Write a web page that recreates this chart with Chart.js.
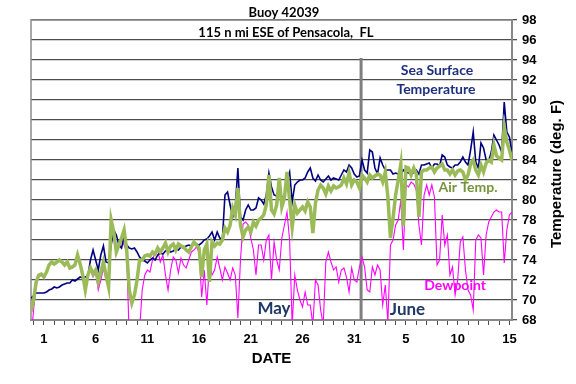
<!DOCTYPE html>
<html>
<head>
<meta charset="utf-8">
<script src="https://cdn.jsdelivr.net/npm/chart.js@4.4.0/dist/chart.umd.min.js"></script>
<style>
  html, body { margin: 0; padding: 0; background: #fff; }
</style>
</head>
<body>
<canvas id="myChart" width="576" height="384"></canvas>
<script>
// 6-hourly readings. Day 1 = May 1, day 32 = June 1. First reading at day -0.25.
const startDay = -0.25;
const stepDay = 0.25;

const seaSurface = [
    70.2, 70.4, 70.7, 70.7,
    70.7, 70.7, 70.8, 71.0,
    71.1, 71.3, 71.2, 71.3,
    71.5, 71.6, 71.7, 71.7,
    72.0, 71.9, 72.1, 72.3,
    72.2, 72.3, 72.4, 74.0,
    75.0, 74.0, 73.0, 74.5,
    75.4, 73.8, 73.7, 75.5,
    77.0, 76.5, 75.5, 75.2,
    76.3, 75.5, 75.2, 75.1,
    75.2, 74.8, 74.3, 74.0,
    73.9, 73.7, 74.0, 74.2,
    74.0, 74.5, 74.7, 74.6,
    74.9, 75.0, 74.8, 74.9,
    75.1, 75.0, 75.3, 75.2,
    75.4, 75.5, 75.4, 75.8,
    75.6, 75.5, 75.7, 76.0,
    76.1, 76.4, 76.8, 76.0,
    76.8, 76.2, 76.0, 80.5,
    80.8, 79.5, 78.3, 79.3,
    83.2, 78.3, 78.0, 79.0,
    79.5, 79.0, 79.0, 79.2,
    80.2, 80.0, 79.6, 80.5,
    82.7, 81.3, 80.5, 80.4,
    80.8, 80.2, 80.5, 82.0,
    82.8, 79.8, 81.5, 81.8,
    82.0, 82.0, 82.2, 82.8,
    83.2, 82.2, 81.9, 82.5,
    82.0, 81.8, 82.1, 82.4,
    82.0, 82.2, 82.1, 82.0,
    82.5, 83.0, 82.8, 83.5,
    83.2, 82.6, 82.3, 82.4,
    84.0, 83.0, 82.7, 85.0,
    84.8, 83.2, 82.6, 84.2,
    83.5, 83.0, 83.0, 83.0,
    82.6, 82.7, 82.6, 82.5,
    83.0, 82.8, 82.7, 82.7,
    82.7, 83.0, 82.6, 83.5,
    83.5, 83.6, 83.7, 83.2,
    83.6, 83.6, 83.4, 84.5,
    84.3, 83.5, 83.3, 83.2,
    83.5, 83.5, 83.8, 84.3,
    83.8, 83.5, 85.0, 86.8,
    83.8, 83.2, 85.7, 85.2,
    84.0, 83.9, 84.8, 86.5,
    86.0, 85.5, 84.8, 89.8,
    86.8, 86.3, 84.7
];

const airTemp = [
    68.8, 70.0, 71.8, 72.5,
    72.6, 72.3, 72.8, 73.5,
    73.8, 73.6, 73.8, 74.0,
    73.8, 73.5, 73.8, 73.2,
    73.3, 73.5, 74.5, 73.6,
    72.5, 71.0, 72.5, 73.2,
    72.6, 73.0, 71.8, 72.8,
    73.8, 72.5, 71.3, 78.0,
    76.8, 74.8, 75.5, 76.2,
    77.0, 75.0, 71.0, 69.7,
    70.5, 72.0, 74.0, 74.0,
    74.4, 74.5, 74.4, 74.8,
    74.6, 75.2, 74.8, 75.2,
    75.7, 74.8, 75.4, 75.6,
    75.0, 75.6, 75.4, 75.3,
    75.0, 74.8, 75.3, 75.8,
    75.5, 75.2, 72.3, 75.0,
    75.6, 71.8, 75.8, 75.4,
    75.7, 75.6, 76.0, 77.2,
    76.8, 77.5, 79.2, 78.5,
    81.2, 77.5, 76.3, 77.0,
    77.3, 76.8, 77.8, 77.4,
    78.0, 78.2, 78.5, 79.5,
    82.5, 79.0, 78.6, 79.5,
    82.2, 79.3, 80.2, 82.8,
    80.0, 77.3, 79.5, 78.7,
    79.0, 79.3, 78.9, 79.8,
    79.3, 76.7, 79.7, 81.0,
    81.5, 81.2, 80.6, 81.4,
    80.9, 81.4, 81.2, 81.3,
    81.5, 82.2, 81.6, 82.7,
    81.5, 82.0, 81.8, 81.2,
    82.5, 82.2, 81.8, 82.5,
    82.2, 82.4, 82.6, 82.5,
    81.8, 82.8, 80.3, 76.2,
    78.2, 80.5, 82.0, 83.6,
    77.4, 83.3, 83.2, 82.5,
    83.2, 82.6, 78.3, 82.8,
    83.0, 83.0, 83.2, 83.3,
    82.8, 83.2, 83.4, 83.6,
    83.0, 83.0, 82.6, 83.0,
    82.5, 82.9, 83.0, 82.8,
    82.0, 82.5, 83.6, 84.0,
    83.0, 82.5, 83.5, 82.8,
    83.7, 84.0, 83.8, 85.5,
    84.4, 84.2, 84.0, 87.3,
    85.8, 85.0, 84.0
];

const dewpoint = [
    66.0, 69.0, 71.5, 72.3,
    72.5, 72.2, 72.7, 73.4,
    73.7, 73.5, 73.7, 73.9,
    73.7, 73.4, 73.7, 73.1,
    73.2, 73.4, 74.4, 73.5,
    72.4, 70.9, 72.4, 73.0,
    72.3, 72.8, 71.0, 72.0,
    73.2, 72.0, 71.2, 76.0,
    76.3, 74.6, 75.3, 76.0,
    75.5, 74.8, 66.0, 65.0,
    65.5, 66.0, 67.0, 71.0,
    72.5, 73.0, 72.8, 74.0,
    74.8, 75.0, 73.8, 74.5,
    72.5, 71.0, 73.0, 74.3,
    74.0, 72.7, 74.2, 73.5,
    73.2, 74.0, 74.8, 75.0,
    75.3, 74.8, 70.3, 73.0,
    69.5, 73.5, 72.5, 73.0,
    74.3, 73.2, 72.0, 73.3,
    72.7, 72.0, 73.2, 72.5,
    68.2, 74.0, 77.6, 77.8,
    77.5, 76.2, 75.0, 72.5,
    75.5, 75.5, 74.0, 76.0,
    76.5, 72.0, 75.8, 74.0,
    73.0, 76.2, 77.5, 78.8,
    76.0, 67.5, 72.5, 71.0,
    70.0, 69.3, 70.8, 69.5,
    69.5, 67.5, 72.0, 71.5,
    69.0, 67.5, 73.8, 74.8,
    73.8, 73.0, 73.3, 71.8,
    73.0, 73.2, 72.3, 70.8,
    73.2, 72.0, 71.8, 73.3,
    74.3, 73.3, 71.0, 70.8,
    73.3, 72.5, 73.5, 73.0,
    69.5, 71.5, 67.8, 75.5,
    76.0, 77.5, 78.0, 80.0,
    75.0, 81.5, 81.3, 81.8,
    81.6, 81.0, 77.5, 75.5,
    80.5, 81.5, 80.5, 81.5,
    80.3, 73.5, 74.0, 78.5,
    75.5, 76.5, 72.5, 73.3,
    70.5, 72.0, 75.8, 76.3,
    73.0, 71.0, 70.5, 69.0,
    76.0, 76.5, 76.2, 72.5,
    76.5, 77.8, 78.3, 78.8,
    79.0, 78.8, 78.8, 73.7,
    77.0, 78.5, 78.8
];

// labelled days on the date axis
const tickDays = [1, 6, 11, 16, 21, 26, 31, 36, 41, 46];
const tickLabels = ['1', '6', '11', '16', '21', '26', '31', '5', '10', '15'];

// May / June divider
const monthBreak = { day: 31.66, top: 94.2 };

const notes = [
    { text: 'Buoy 42039', day: 24.2, temp: 98.75, color: '#000', font: 'bold 13px Lato' },
    { text: '115 n mi ESE of Pensacola,  FL', day: 24.4, temp: 96.75, color: '#000', font: 'bold 13px Lato' },
    { text: 'Sea Surface', day: 39.0, temp: 93.0, color: '#1f2f7f', font: 'bold 14px Lato' },
    { text: 'Temperature', day: 38.9, temp: 91.1, color: '#1f2f7f', font: 'bold 14px Lato' },
    { text: 'Air Temp.', day: 42.0, temp: 81.3, color: '#77933c', font: 'bold 14px Lato' },
    { text: 'Dewpoint', day: 40.75, temp: 71.5, color: '#ff00ff', font: 'bold 14px Lato' },
    { text: 'May', day: 23.24, temp: 69.1, color: '#1f3864', font: 'bold 17px Lato' },
    { text: 'June', day: 36.15, temp: 69.0, color: '#1f3864', font: 'bold 17px Lato' }
];

const toPoints = vals => vals.map((v, i) => ({ x: startDay + i * stepDay, y: v }));

const extras = {
    id: 'extras',
    beforeDatasetsDraw(chart) {
        const { ctx, chartArea, scales: { x, y } } = chart;
        ctx.save();
        ctx.strokeStyle = '#8c8c8c';
        ctx.lineWidth = 1.5;
        ctx.strokeRect(chartArea.left, chartArea.top, chartArea.right - chartArea.left, chartArea.bottom - chartArea.top);
        const px = x.getPixelForValue(monthBreak.day);
        ctx.strokeStyle = '#7f7f7f';
        ctx.lineWidth = 3;
        ctx.beginPath();
        ctx.moveTo(px, y.getPixelForValue(monthBreak.top));
        ctx.lineTo(px, y.getPixelForValue(68));
        ctx.stroke();
        ctx.restore();
    },
    afterDatasetsDraw(chart) {
        const { ctx, scales: { x, y } } = chart;
        ctx.save();
        ctx.textAlign = 'center';
        ctx.textBaseline = 'middle';
        notes.forEach(n => {
            ctx.font = n.font;
            ctx.fillStyle = n.color;
            ctx.fillText(n.text, x.getPixelForValue(n.day), y.getPixelForValue(n.temp));
        });
        // y axis title, reading bottom to top
        ctx.translate(557, 174);
        ctx.rotate(-Math.PI / 2);
        ctx.font = 'bold 15px "Liberation Sans"';
        ctx.fillStyle = '#000';
        ctx.fillText('Temperature (deg. F)', 0, 0);
        ctx.restore();
    }
};

const ctx = document.getElementById('myChart').getContext('2d');
const myChart = new Chart(ctx, {
    type: 'line',
    data: {
        datasets: [
            {
                label: 'Air Temp.',
                data: toPoints(airTemp),
                borderColor: '#9bbb59',
                borderWidth: 3.5
            },
            {
                label: 'Sea Surface Temperature',
                data: toPoints(seaSurface),
                borderColor: '#000080',
                borderWidth: 1.6
            },
            {
                label: 'Dewpoint',
                data: toPoints(dewpoint),
                borderColor: '#ff00ff',
                borderWidth: 1.1
            }
        ]
    },
    options: {
        responsive: false,
        animation: false,
        layout: { padding: { left: 31, top: 20, right: 0, bottom: 0 } },
        elements: { point: { radius: 0 }, line: { tension: 0 } },
        plugins: { legend: { display: false }, tooltip: { enabled: false } },
        scales: {
            x: {
                type: 'linear',
                min: -0.25,
                max: 46.25,
                afterBuildTicks(scale) {
                    const all = [];
                    for (let d = 0; d <= 46; d++) all.push({ value: d });
                    scale.ticks = all;
                },
                afterFit(scale) { scale.height = 64; },
                ticks: {
                    autoSkip: false,
                    maxRotation: 0,
                    padding: 7,
                    color: '#000',
                    font: { family: 'Liberation Sans', weight: 'bold', size: 13 },
                    callback: v => {
                        const i = tickDays.indexOf(v);
                        return i >= 0 ? tickLabels[i] : '';
                    }
                },
                grid: { drawOnChartArea: false, color: '#4d4d4d', tickLength: 5 },
                border: { color: '#808080', width: 2 },
                title: {
                    display: true,
                    text: 'DATE',
                    color: '#000',
                    font: { family: 'Liberation Sans', weight: 'bold', size: 15 },
                    padding: { top: 4, bottom: 16 }
                }
            },
            y: {
                position: 'right',
                min: 68,
                max: 98,
                afterFit(scale) { scale.width = 64; },
                ticks: {
                    stepSize: 2,
                    padding: 5,
                    color: '#000',
                    font: { family: 'Liberation Sans', weight: 'bold', size: 13 }
                },
                grid: { color: '#4d4d4d', lineWidth: 1.3, tickLength: 5 },
                border: { color: '#808080', width: 2 }
            }
        }
    },
    plugins: [extras]
});
</script>
</body>
</html>
